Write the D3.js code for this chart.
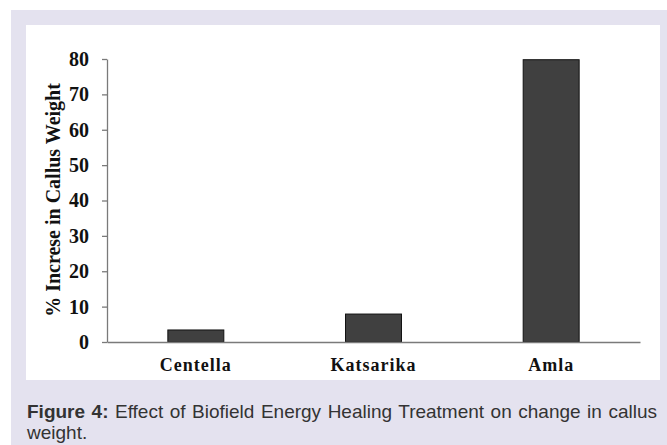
<!DOCTYPE html>
<html><head><meta charset="utf-8">
<script src="https://cdn.jsdelivr.net/npm/d3@7"></script>
<style>html,body{margin:0;padding:0;background:#fff;}svg{display:block;}</style>
</head><body>
<svg id="chart" width="667" height="445"></svg>
<script>
const categories = ["Centella", "Katsarika", "Amla"];
const values = [3.4, 7.9, 79.8];
const yTicks = [0, 10, 20, 30, 40, 50, 60, 70, 80];
const yLabel = "% Increse in Callus Weight";
const captionBold = "Figure 4:";
const captionLine1 = " Effect of Biofield Energy Healing Treatment on change in callus";
const captionLine2 = "weight.";

const svg = d3.select("#chart");
svg.append("rect").attr("x", 11).attr("y", 10).attr("width", 656).attr("height", 435).attr("fill", "#e4e2ef");
svg.append("rect").attr("x", 26).attr("y", 25).attr("width", 634).attr("height", 355).attr("fill", "#ffffff");

const x0 = 107, x1 = 640, yb = 342, yt = 59;
const x = d3.scaleBand().domain(categories).range([x0, x1]).paddingInner(0.685).paddingOuter(0.3425);
const y = d3.scaleLinear().domain([0, 80]).range([yb, yt]);

// bars
svg.append("g").selectAll("rect").data(values).join("rect")
  .attr("x", (d, i) => x(categories[i]))
  .attr("width", x.bandwidth())
  .attr("y", d => y(d))
  .attr("height", d => yb - y(d))
  .attr("fill", "#404040").attr("stroke", "#111").attr("stroke-width", 1);

// y axis
const ya = svg.append("g").attr("transform", `translate(${x0},0)`)
  .call(d3.axisLeft(y).tickValues(yTicks).tickSize(5).tickPadding(13).tickSizeOuter(0));
ya.select(".domain").attr("stroke", "#7a7a7a").attr("stroke-width", 1.3);
ya.selectAll(".tick line").attr("stroke", "#7a7a7a").attr("stroke-width", 1.3);
ya.selectAll(".tick text").attr("font-family", "Liberation Serif, Times New Roman, serif")
  .attr("font-weight", "bold").attr("font-size", 20).attr("fill", "#111");

// x axis
const xa = svg.append("g").attr("transform", `translate(0,${yb})`)
  .call(d3.axisBottom(x).tickSize(0).tickPadding(16));
xa.select(".domain").attr("stroke", "#7a7a7a").attr("stroke-width", 1.3);
xa.selectAll(".tick text").attr("font-family", "Liberation Serif, Times New Roman, serif")
  .attr("font-weight", "bold").attr("font-size", 18).attr("letter-spacing", 1).attr("fill", "#111");

// y label
svg.append("text").attr("transform", `translate(60,200) rotate(-90)`)
  .attr("text-anchor", "middle").attr("font-family", "Liberation Serif, Times New Roman, serif")
  .attr("font-weight", "bold").attr("font-size", 20).attr("fill", "#111").text(yLabel);

// caption
const cap = svg.append("text").attr("x", 27).attr("y", 418)
  .attr("font-family", "Liberation Sans, Arial, sans-serif").attr("font-size", 19).attr("fill", "#333");
cap.append("tspan").attr("font-weight", "bold").text(captionBold);
cap.append("tspan").text(captionLine1);
const w = cap.node().getComputedTextLength();
const target = 657 - 27;
const spaces = (captionBold + captionLine1).split(" ").length - 1;
if (w < target) cap.attr("word-spacing", (target - w) / spaces);
else cap.attr("textLength", target).attr("lengthAdjust", "spacingAndGlyphs");
svg.append("text").attr("x", 27).attr("y", 439)
  .attr("font-family", "Liberation Sans, Arial, sans-serif").attr("font-size", 19).attr("fill", "#333").text(captionLine2);
</script>
</body></html>
